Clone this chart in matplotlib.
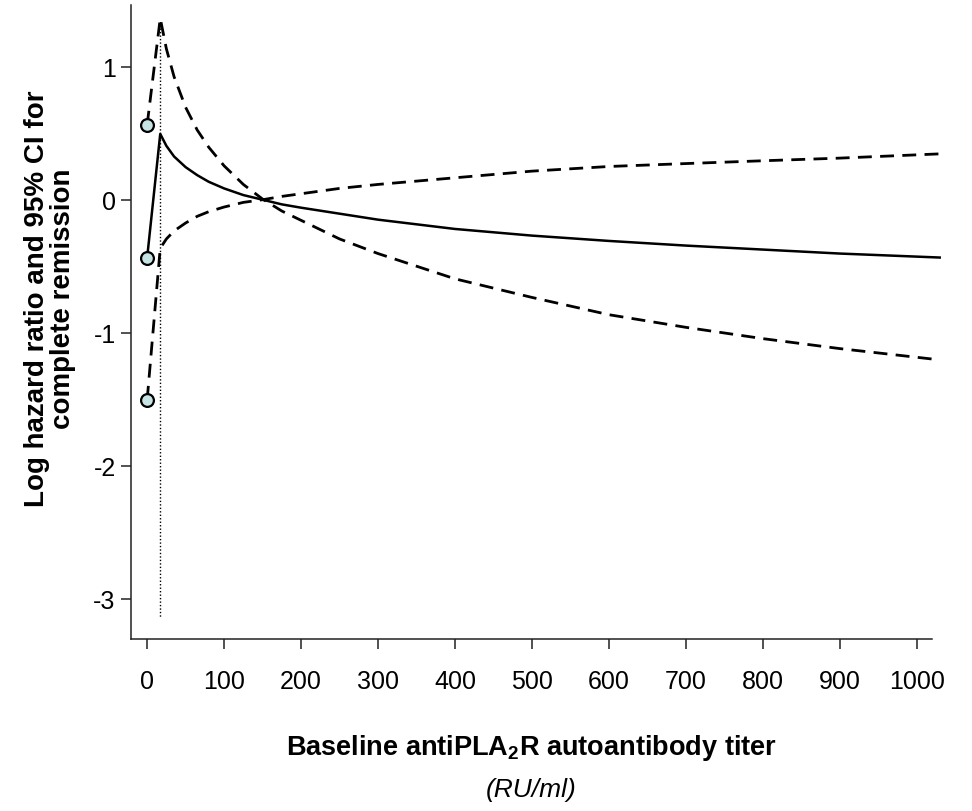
import numpy as np
import matplotlib.pyplot as plt

plt.rcParams['font.family'] = ['Liberation Sans', 'DejaVu Sans']
plt.rcParams['axes.unicode_minus'] = False
plt.rcParams['mathtext.fontset'] = 'custom'
plt.rcParams['mathtext.rm'] = 'Liberation Sans'
plt.rcParams['mathtext.bf'] = 'Liberation Sans:bold'

# titer grid (RU/ml) and values
titer = [0, 17, 25, 35, 50, 65, 80, 100, 125, 150, 175, 200, 250, 300,
         400, 500, 600, 700, 800, 900, 1030]
log_hr = [-0.43, 0.50, 0.41, 0.33, 0.25, 0.19, 0.14, 0.09, 0.04, 0.005, -0.03,
          -0.055, -0.10, -0.145, -0.215, -0.265, -0.305, -0.34, -0.37, -0.40, -0.43]
ci_a = [0.57, 1.37, 1.14, 0.93, 0.70, 0.53, 0.40, 0.26, 0.12, 0.01, -0.08,
        -0.15, -0.29, -0.40, -0.59, -0.73, -0.86, -0.955, -1.04, -1.115, -1.20]
ci_b = [-1.50, -0.36, -0.29, -0.23, -0.17, -0.12, -0.085, -0.05, -0.015, 0.005, 0.03,
        0.05, 0.09, 0.12, 0.17, 0.22, 0.255, 0.277, 0.298, 0.318, 0.35]
ref_titer = 17
ref_line = [1.30, -3.14]

xticks = list(range(0, 1001, 100))
yticks = [-3, -2, -1, 0, 1]

fig = plt.figure(figsize=(9.72, 8.11), dpi=100)
ax = fig.add_axes([131/972, 1 - 639/811, (932-131)/972, (639-5)/811])

ax.plot([ref_titer, ref_titer], ref_line, color='black', lw=1.0, ls=(0, (1, 1.5)))
ax.plot(titer, log_hr, color='black', lw=1.8, clip_on=False, zorder=3)
for ci in (ci_a, ci_b):
    ax.plot(titer, ci, color='black', lw=2.0, ls=(0, (5, 3)), clip_on=False, zorder=3)

ax.scatter([titer[0]] * 3, [ci_a[0], log_hr[0], ci_b[0]], s=85, facecolor='#c6e4e4',
           edgecolor='black', linewidth=1.6, zorder=4, clip_on=False)

ax.set_xlim(-21, 1020)
ax.set_ylim(-3.30, 1.47)
ax.set_xticks(xticks)
ax.set_yticks(yticks)
ax.spines['top'].set_visible(False)
ax.spines['right'].set_visible(False)
for s in ('left', 'bottom'):
    ax.spines[s].set_linewidth(1.1)
    ax.spines[s].set_color('#222222')
ax.tick_params(axis='both', direction='out', length=7, width=1.1, color='#222222',
               labelsize=18)
ax.tick_params(axis='x', pad=15)
ax.tick_params(axis='y', pad=4)

fig.text(531/972, 1 - 748/811, r'Baseline antiPLA$_\mathbf{2}$R autoantibody titer',
         ha='center', va='center', fontsize=19.5, fontweight='bold')
fig.text(531/972, 1 - 790/811, '(RU/ml)', ha='center', va='center',
         fontsize=19, style='italic')
fig.text(50/972, 1 - 299/811, 'Log hazard ratio and 95% CI for\ncomplete remission',
         ha='center', va='center', rotation=90, fontsize=20, fontweight='bold',
         linespacing=1.0)

fig.savefig('out.png', dpi=100)
